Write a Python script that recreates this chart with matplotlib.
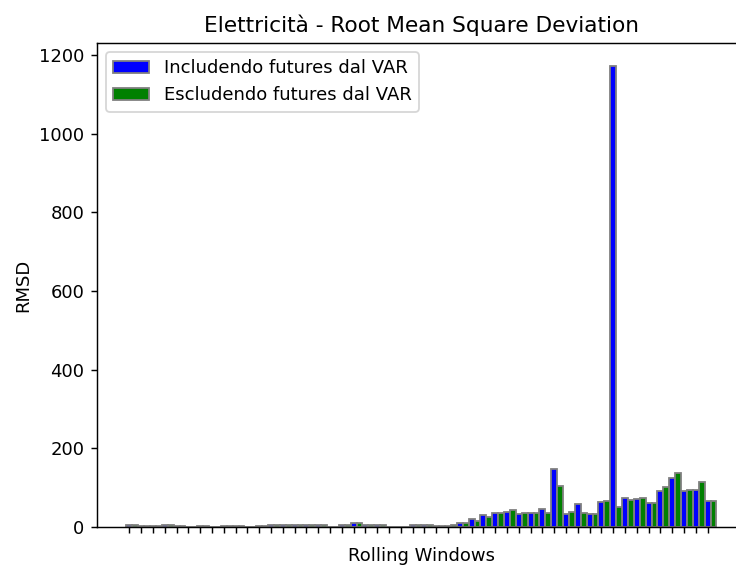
import numpy as np
import matplotlib
matplotlib.use("Agg")
import matplotlib.pyplot as plt


# ---------------------------------------------------------
# Data (RMSD per rolling window)
# ---------------------------------------------------------
windows = np.arange(50)

rmsd_with_futures = [6, 3, 2, 6, 3, 1, 2, 1, 3, 3,
                     1, 3, 6, 6, 6, 6, 5, 0.5, 5, 10,
                     4, 4, 1, 1, 4, 5, 2, 3, 11, 20,
                     31, 36, 38, 32, 36, 46, 147, 32, 59, 32,
                     64, 1172, 75, 71, 61, 91, 125, 91, 95, 67]

rmsd_without_futures = [6, 3, 2, 6, 3, 1, 2, 1, 3, 3,
                        1, 3, 6, 6, 6, 6, 5, 0.5, 4, 9,
                        4, 4, 1, 1, 4, 5, 2, 5, 10, 15,
                        26, 36, 44, 36, 36, 35, 103, 39, 35, 32,
                        67, 52, 68, 75, 61, 102, 138, 95, 115, 67]

labels = ["Includendo futures dal VAR", "Escludendo futures dal VAR"]


# ---------------------------------------------------------
# Plot
# ---------------------------------------------------------
dpi = 130
fig = plt.figure(figsize=(736 / dpi, 567 / dpi), dpi=dpi)
ax = fig.add_axes([97 / 736, 40 / 567, 649 / 736, 484 / 567])

width = 0.5
ax.bar(windows, rmsd_with_futures, width, color="blue", edgecolor="grey", label=labels[0])
ax.bar(windows + width, rmsd_without_futures, width, color="green", edgecolor="grey", label=labels[1])

ax.set_xticks(windows)
ax.set_xticklabels([""] * len(windows))
ax.set_xlabel("Rolling Windows")
ax.set_ylabel("RMSD")
ax.set_title("Elettricità - Root Mean Square Deviation")
ax.legend(loc="upper left")

fig.savefig("out.png", dpi=dpi)
